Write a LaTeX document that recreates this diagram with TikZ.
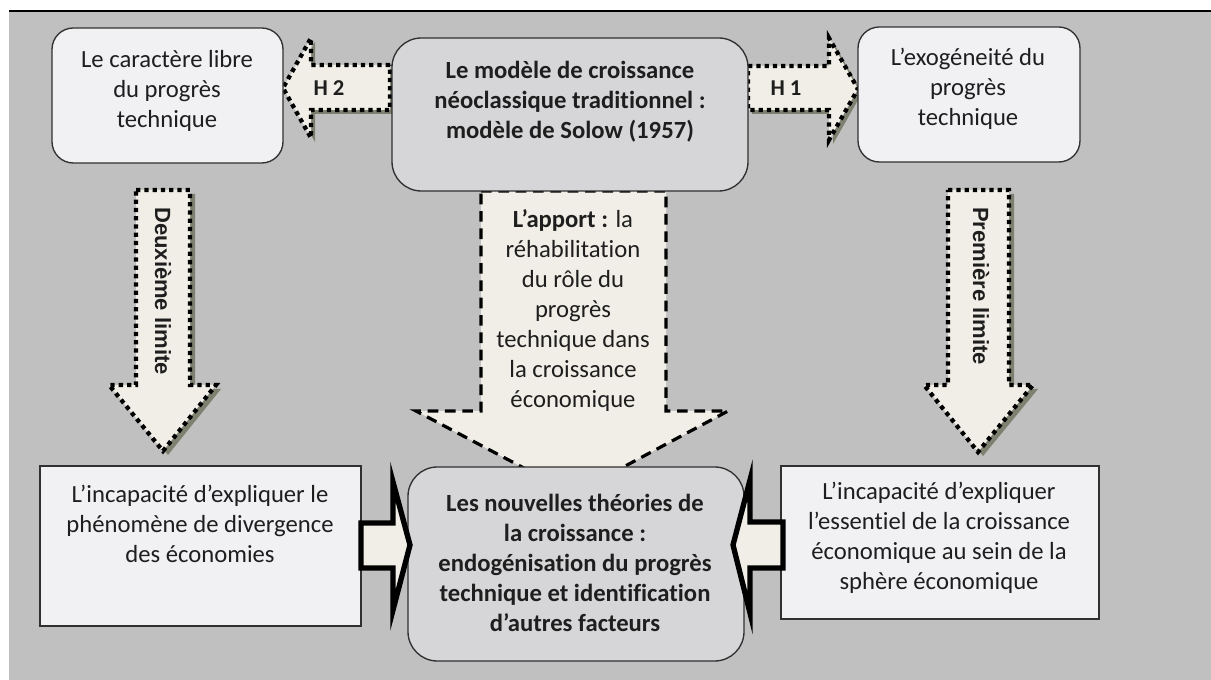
\documentclass[tikz,border=0pt]{standalone}
\usepackage{fontspec}
\setmainfont{Carlito}[Ligatures={NoCommon,NoRequired,NoContextual}]
\newfontfamily\arialf{Liberation Sans}
\usetikzlibrary{fit}
\definecolor{bgc}{HTML}{C0C0C0}
\definecolor{boxlight}{HTML}{F1F1F3}
\definecolor{boxgray}{HTML}{D6D6D8}
\definecolor{arrowfill}{HTML}{F0EEE6}
\definecolor{shadowc}{HTML}{7E8070}
\definecolor{txtc}{HTML}{1E1E1E}
\definecolor{boxline}{HTML}{303030}
\begin{document}
\begin{tikzpicture}[x=0.75pt,y=-0.75pt,
  rbox/.style={draw=boxline, line width=1pt, rounded corners=16pt, inner sep=0pt},
  sbox/.style={draw=boxline, line width=1pt, fill=boxlight, inner sep=0pt},
  txt/.style={text=txtc, align=center, inner sep=0pt, font=\fontsize{18.5}{22.5}\selectfont},
  btxt/.style={txt, font=\fontsize{18.5}{22.5}\selectfont\bfseries},
  vtxt/.style={text=txtc, inner sep=0pt, rotate=-90, font=\arialf\bfseries\fontsize{16.5}{19}\selectfont},
  dotarrow/.style={fill=arrowfill, draw=black, line width=3.2pt, dash pattern=on 3.2pt off 3pt, line join=miter},
  dasharrow/.style={fill=arrowfill, draw=black, line width=2.4pt, dash pattern=on 8pt off 5pt, line join=miter},
  solidarrow/.style={fill=arrowfill, draw=black, line width=4pt, line join=miter},
  shadowarrow/.style={fill=shadowc}
]
\useasboundingbox (0,0) rectangle (1211,680);
\fill[white] (0,0) rectangle (1211,680);
\fill[bgc] (9,11) rectangle (1211,680);
\draw[line width=1.5pt] (9,11) -- (1211,11);

% ---- top horizontal arrows H2 and H1
\fill[shadowarrow, shift={(4,4)}] (390,65) -- (311,65) -- (311,38) -- (283,88) -- (311,138) -- (311,110) -- (390,110) -- cycle;
\path[dotarrow] (390,65) -- (311,65) -- (311,38) -- (283,88) -- (311,138) -- (311,110) -- (390,110) -- cycle;
\fill[shadowarrow, shift={(4,4)}] (748,66) -- (829,66) -- (829,38) -- (858,89) -- (829,140) -- (829,110) -- (748,110) -- cycle;
\path[dotarrow] (748,66) -- (829,66) -- (829,38) -- (858,89) -- (829,140) -- (829,110) -- (748,110) -- cycle;

% ---- vertical arrows
\fill[shadowarrow, shift={(5,4)}] (136,190) -- (190,190) -- (190,385) -- (216,385) -- (163,451) -- (109,385) -- (136,385) -- cycle;
\path[dotarrow] (136,190) -- (190,190) -- (190,385) -- (216,385) -- (163,451) -- (109,385) -- (136,385) -- cycle;
\fill[shadowarrow, shift={(5,4)}] (948,190) -- (1009,190) -- (1009,385) -- (1033,385) -- (978,452) -- (924,385) -- (948,385) -- cycle;
\path[dotarrow] (948,190) -- (1009,190) -- (1009,385) -- (1033,385) -- (978,452) -- (924,385) -- (948,385) -- cycle;

% ---- central big arrow
\path[dasharrow] (481,191) -- (666,191) -- (666,411) -- (728,411) -- (573,494) -- (416,411) -- (481,411) -- cycle;

% ---- boxes
\node[rbox, fill=boxlight, fit={(52,28) (283,163)}] (A) {};
\node[rbox, fill=boxgray, rounded corners=22pt, fit={(392,38) (748,191)}] (B) {};
\node[rbox, fill=boxlight, fit={(858,27) (1080,162)}] (C) {};
\node[sbox, fit={(40,466) (361,626)}] (D) {};
\node[rbox, fill=boxgray, rounded corners=22pt, fit={(408,467) (744,661)}] (E) {};
\node[sbox, fit={(781,466) (1099,619)}] (F) {};

% ---- bottom small arrows
\path[solidarrow] (361,523) -- (393,523) -- (393,482) -- (410,545) -- (393,610) -- (393,568) -- (361,568) -- cycle;
\path[solidarrow] (783,522) -- (750,522) -- (750,480) -- (733,545) -- (750,613) -- (750,568) -- (783,568) -- cycle;

% ---- texts
\node[txt] (At) at (167,91) {Le caractère libre\\du progrès\\technique};
\node[btxt] (Bt) at (570,102) {Le modèle de croissance\\néoclassique traditionnel :\\modèle de Solow (1957)};
\node[txt] (Ct) at (968,89) {L’exogéneité du\\progrès\\technique};
\node[btxt, font=\fontsize{17}{20}\selectfont\bfseries] (H2) at (329,88) {H 2};
\node[btxt, font=\fontsize{17}{20}\selectfont\bfseries] (H1) at (786,88) {H 1};
\node[vtxt] (V2) at (163,291) {Deuxième limite};
\node[vtxt] (V1) at (981,286) {Première limite};
\node[txt] (Mt) at (573,311) {\textbf{L’apport :} la\\réhabilitation\\du rôle du\\progrès\\technique dans\\la croissance\\économique};
\node[txt] (Dt) at (200,524) {L’incapacité d’expliquer le\\phénomène de divergence\\des économies};
\node[btxt] (Et) at (575,563) {Les nouvelles théories de\\la croissance :\\endogénisation du progrès\\technique et identification\\d’autres facteurs};
\node[txt] (Ft) at (939,538) {L’incapacité d’expliquer\\l’essentiel de la croissance\\économique au sein de la\\sphère économique};
\end{tikzpicture}
\end{document}
